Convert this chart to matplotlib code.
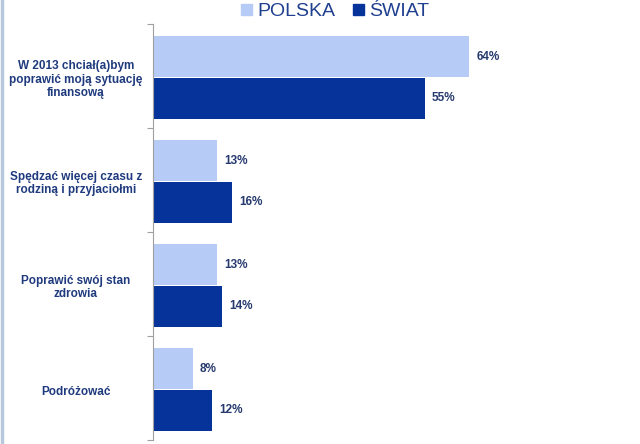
import numpy as np
import matplotlib
matplotlib.use('Agg')
import matplotlib.pyplot as plt
from matplotlib.lines import Line2D
from matplotlib.patches import Patch

plt.rcParams['font.family'] = ['Liberation Sans', 'DejaVu Sans']

categories = ['W 2013 chciał(a)bym\npoprawić moją sytuację\nfinansową',
              'Spędzać więcej czasu z\nrodziną i przyjaciołmi',
              'Poprawić swój stan\nzdrowia',
              'Podróżować']
polska = [64, 13, 13, 8]
swiat = [55, 16, 14, 12]
series_names = ['POLSKA', 'ŚWIAT']

light = '#b7cbf7'
dark = '#063399'
txt = '#1f3a7d'

fig = plt.figure(figsize=(6.4, 4.44), dpi=100)
ax = fig.add_axes([153 / 640, 1 - 440 / 444, 467 / 640, 416 / 444])

y = np.arange(len(categories))
h = 0.395
ax.barh(y - h / 2 + 0.01, polska, height=h, color=light)
ax.barh(y + h / 2 + 0.015, swiat, height=h, color=dark)

for i in range(len(categories)):
    ax.text(polska[i] + 1.5, y[i] - h / 2 + 0.01, '%d%%' % polska[i], va='center', ha='left',
            fontsize=8.5, fontweight='bold', color='#263a6e')
    ax.text(swiat[i] + 1.5, y[i] + h / 2 + 0.015, '%d%%' % swiat[i], va='center', ha='left',
            fontsize=8.5, fontweight='bold', color='#263a6e')
    ax.text(-15.6, y[i] + 0.035, categories[i], va='center', ha='center', fontsize=8.5,
            fontweight='bold', color=txt, linespacing=1.15)

ax.set_ylim(len(categories) - 0.5, -0.5)
ax.set_xlim(0, 467 / 4.94)
ax.set_yticks(np.arange(len(categories) + 1) - 0.5)
ax.set_yticklabels([])
ax.tick_params(axis='y', length=4, color='#a0a0a0', width=0.8)
ax.set_xticks([])
for s in ['top', 'right', 'bottom']:
    ax.spines[s].set_visible(False)
ax.spines['left'].set_color('#a0a0a0')
ax.spines['left'].set_linewidth(0.8)

handles = [Patch(color=light), Patch(color=dark)]
fig.legend(handles, series_names, loc='center', bbox_to_anchor=(0.524, 1 - 12 / 444),
           ncol=2, frameon=False, fontsize=14, handlelength=0.55, handleheight=0.55,
           handletextpad=0.3, columnspacing=0.9, labelcolor='#1f3f8f',
           borderpad=0, borderaxespad=0)

fig.add_artist(Line2D([1.5 / 640, 1.5 / 640], [0, 1], color='#b8c8dc', lw=2.5))

fig.savefig('out.png', dpi=100)
